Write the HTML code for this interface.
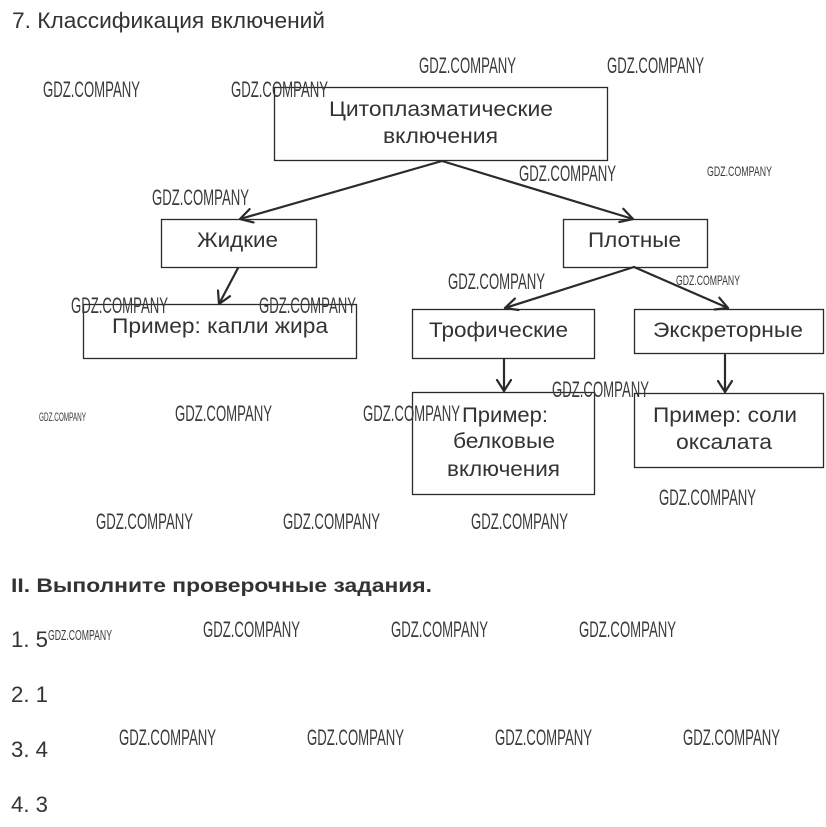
<!DOCTYPE html>
<html>
<head>
<meta charset="utf-8">
<style>
html,body{margin:0;padding:0;background:#fff;}
svg{display:block;}
.t{font-family:"Liberation Sans","Noto Sans CJK SC",sans-serif;fill:#333;}
.w{font-family:"Liberation Sans Narrow","Liberation Sans",sans-serif;fill:#3a3a3a;}
.b{fill:none;stroke:#2a2a2a;stroke-width:1.3;}
.a{fill:none;stroke:#2a2a2a;stroke-width:2.2;stroke-linecap:round;stroke-linejoin:round;}
</style>
</head>
<body>
<svg width="826" height="827" viewBox="0 0 826 827" xmlns="http://www.w3.org/2000/svg">
<rect width="826" height="827" fill="#fff"/>

<!-- Title -->
<text class="t" x="12" y="28" font-size="22" textLength="313" lengthAdjust="spacingAndGlyphs">7. Классификация включений</text>

<!-- Boxes -->
<rect class="b" x="274.5" y="87.5" width="333" height="73"/>
<rect class="b" x="161.5" y="219.5" width="155" height="48"/>
<rect class="b" x="563.5" y="219.5" width="144" height="48"/>
<rect class="b" x="83.5" y="304.5" width="273" height="54"/>
<rect class="b" x="412.5" y="309.5" width="182" height="49"/>
<rect class="b" x="634.5" y="309.5" width="189" height="44"/>
<rect class="b" x="412.5" y="392.5" width="182" height="102"/>
<rect class="b" x="634.5" y="393.5" width="189" height="74"/>

<!-- Box text -->
<text class="t" x="329" y="116" font-size="21" textLength="224" lengthAdjust="spacingAndGlyphs">Цитоплазматические</text>
<text class="t" x="383" y="143" font-size="21" textLength="115" lengthAdjust="spacingAndGlyphs">включения</text>
<text class="t" x="197" y="247" font-size="21" textLength="81" lengthAdjust="spacingAndGlyphs">Жидкие</text>
<text class="t" x="588" y="247" font-size="21" textLength="93" lengthAdjust="spacingAndGlyphs">Плотные</text>
<text class="t" x="112" y="333" font-size="21" textLength="216" lengthAdjust="spacingAndGlyphs">Пример: капли жира</text>
<text class="t" x="429" y="337" font-size="21" textLength="139" lengthAdjust="spacingAndGlyphs">Трофические</text>
<text class="t" x="653" y="337" font-size="21" textLength="150" lengthAdjust="spacingAndGlyphs">Экскреторные</text>
<text class="t" x="462" y="422" font-size="21" textLength="86" lengthAdjust="spacingAndGlyphs">Пример:</text>
<text class="t" x="453" y="448" font-size="21" textLength="102" lengthAdjust="spacingAndGlyphs">белковые</text>
<text class="t" x="447" y="476" font-size="21" textLength="113" lengthAdjust="spacingAndGlyphs">включения</text>
<text class="t" x="653" y="422" font-size="21" textLength="144" lengthAdjust="spacingAndGlyphs">Пример: соли</text>
<text class="t" x="676" y="449" font-size="21" textLength="96" lengthAdjust="spacingAndGlyphs">оксалата</text>

<!-- Arrows -->
<line class="a" x1="442" y1="161" x2="240" y2="219"/>
<polyline class="a" points="249.6,209.1 240,219 253.5,222.4"/>
<line class="a" x1="442" y1="161" x2="633" y2="219"/>
<polyline class="a" points="619.3,222.0 633,219 623.3,208.8"/>
<line class="a" x1="238" y1="268" x2="219" y2="304"/>
<polyline class="a" points="218.0,290.5 219,304 230.0,296.2"/>
<line class="a" x1="634" y1="267" x2="505" y2="308"/>
<polyline class="a" points="514.9,298.6 505,308 518.5,310.0"/>
<line class="a" x1="634" y1="267" x2="728" y2="308"/>
<polyline class="a" points="714.6,309.5 728,308 719.3,297.7"/>
<line class="a" x1="504" y1="359" x2="504" y2="391"/>
<polyline class="a" points="497,380 504,391 511,380"/>
<line class="a" x1="725" y1="355" x2="725" y2="392"/>
<polyline class="a" points="718,381 725,392 732,381"/>

<!-- Bottom section -->
<text class="t" x="11" y="592" font-size="19.5" font-weight="bold" textLength="421" lengthAdjust="spacingAndGlyphs">II. Выполните проверочные задания.</text>
<text class="t" x="11" y="647" font-size="22" textLength="37" lengthAdjust="spacingAndGlyphs">1. 5</text>
<text class="t" x="11" y="702" font-size="22" textLength="37" lengthAdjust="spacingAndGlyphs">2. 1</text>
<text class="t" x="11" y="757" font-size="22" textLength="37" lengthAdjust="spacingAndGlyphs">3. 4</text>
<text class="t" x="11" y="812" font-size="22" textLength="37" lengthAdjust="spacingAndGlyphs">4. 3</text>

<!-- Watermarks -->
<g class="w" font-size="22">
<text x="43" y="97" textLength="97" lengthAdjust="spacingAndGlyphs">GDZ.COMPANY</text>
<text x="231" y="97" textLength="97" lengthAdjust="spacingAndGlyphs">GDZ.COMPANY</text>
<text x="419" y="73" textLength="97" lengthAdjust="spacingAndGlyphs">GDZ.COMPANY</text>
<text x="607" y="73" textLength="97" lengthAdjust="spacingAndGlyphs">GDZ.COMPANY</text>
<text x="519" y="181" textLength="97" lengthAdjust="spacingAndGlyphs">GDZ.COMPANY</text>
<text x="152" y="205" textLength="97" lengthAdjust="spacingAndGlyphs">GDZ.COMPANY</text>
<text x="448" y="289" textLength="97" lengthAdjust="spacingAndGlyphs">GDZ.COMPANY</text>
<text x="71" y="313" textLength="97" lengthAdjust="spacingAndGlyphs">GDZ.COMPANY</text>
<text x="259" y="313" textLength="97" lengthAdjust="spacingAndGlyphs">GDZ.COMPANY</text>
<text x="552" y="397" textLength="97" lengthAdjust="spacingAndGlyphs">GDZ.COMPANY</text>
<text x="175" y="421" textLength="97" lengthAdjust="spacingAndGlyphs">GDZ.COMPANY</text>
<text x="363" y="421" textLength="97" lengthAdjust="spacingAndGlyphs">GDZ.COMPANY</text>
<text x="659" y="505" textLength="97" lengthAdjust="spacingAndGlyphs">GDZ.COMPANY</text>
<text x="96" y="529" textLength="97" lengthAdjust="spacingAndGlyphs">GDZ.COMPANY</text>
<text x="283" y="529" textLength="97" lengthAdjust="spacingAndGlyphs">GDZ.COMPANY</text>
<text x="471" y="529" textLength="97" lengthAdjust="spacingAndGlyphs">GDZ.COMPANY</text>
<text x="203" y="637" textLength="97" lengthAdjust="spacingAndGlyphs">GDZ.COMPANY</text>
<text x="391" y="637" textLength="97" lengthAdjust="spacingAndGlyphs">GDZ.COMPANY</text>
<text x="579" y="637" textLength="97" lengthAdjust="spacingAndGlyphs">GDZ.COMPANY</text>
<text x="119" y="745" textLength="97" lengthAdjust="spacingAndGlyphs">GDZ.COMPANY</text>
<text x="307" y="745" textLength="97" lengthAdjust="spacingAndGlyphs">GDZ.COMPANY</text>
<text x="495" y="745" textLength="97" lengthAdjust="spacingAndGlyphs">GDZ.COMPANY</text>
<text x="683" y="745" textLength="97" lengthAdjust="spacingAndGlyphs">GDZ.COMPANY</text>
</g>
<g class="w">
<text x="707" y="176" font-size="14" textLength="65" lengthAdjust="spacingAndGlyphs">GDZ.COMPANY</text>
<text x="676" y="285" font-size="14" textLength="64" lengthAdjust="spacingAndGlyphs">GDZ.COMPANY</text>
<text x="39" y="421" font-size="12" textLength="47" lengthAdjust="spacingAndGlyphs">GDZ.COMPANY</text>
<text x="48" y="640" font-size="15" textLength="64" lengthAdjust="spacingAndGlyphs">GDZ.COMPANY</text>
</g>
</svg>
</body>
</html>
